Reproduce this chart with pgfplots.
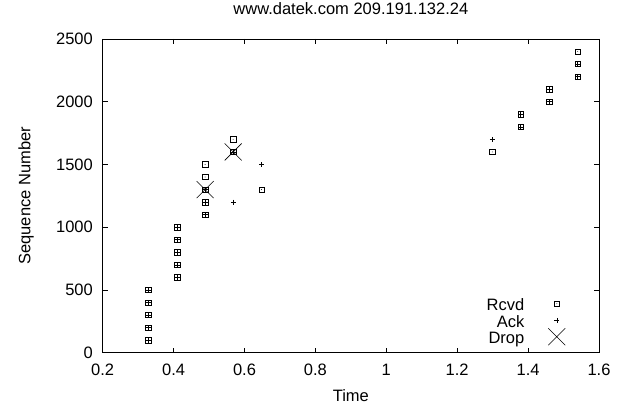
\documentclass[border=0pt]{standalone}
\usepackage{pgfplots}
\pgfplotsset{compat=1.18}
\usepackage{fontspec}
\setmainfont{Liberation Sans}

% square with a dot in the middle, like gnuplot's box point
\pgfdeclareplotmark{sqdot}{%
  \pgfpathrectangle{\pgfpoint{-\pgfplotmarksize}{-\pgfplotmarksize}}%
    {\pgfpoint{2\pgfplotmarksize}{2\pgfplotmarksize}}%
  \pgfusepathqstroke
  \pgfpathcircle{\pgfpointorigin}{0.45bp}%
  \pgfusepathqfill
}

\begin{document}
\begin{tikzpicture}
  \useasboundingbox (-102.7bp,-54.3bp) rectangle (515.3bp,352.7bp);
  \begin{axis}[
    at={(0,0)}, anchor=south west,
    scale only axis,
    width=496.3bp, height=313.7bp,
    xmin=0.2, xmax=1.6,
    ymin=0, ymax=2500,
    xtick={0.2,0.4,0.6,0.8,1,1.2,1.4,1.6},
    ytick={0,500,1000,1500,2000,2500},
    tick align=inside,
    major tick length=5bp,
    axis line style={line width=0.8bp},
    every tick/.style={black, line width=0.6bp},
    font=\fontsize{16.5bp}{19bp}\selectfont,
    /pgf/number format/assume math mode=true,
    /pgf/number format/1000 sep={},
    scaled ticks=false,
    xticklabel style={anchor=base, inner sep=0pt, yshift=-22.3bp},
    yticklabel style={anchor=east, inner sep=0pt, xshift=-9.7bp},
    title={www.datek.com 209.191.132.24},
    title style={at={(axis description cs:0.5,1.0606)}, anchor=base, inner sep=0pt},
    xlabel={Time},
    xlabel style={at={(axis description cs:0.5,-0.156)}, anchor=base, inner sep=0pt},
    ylabel={Sequence Number},
    ylabel style={at={(axis description cs:-0.1545,0.5)}, anchor=center, inner sep=0pt},
    legend plot pos=right,
    legend cell align=right,
    legend image code/.code={
      \path[draw=none, fill=none] (0bp,-5bp) rectangle (17bp,12bp);
      \draw[mark repeat=2, mark phase=2, #1, overlay]
        plot coordinates {(0bp,3.5bp) (8.5bp,3.5bp) (17bp,3.5bp)};
    },
    legend style={draw=none, fill=none, inner sep=0pt,
      at={(axis description cs:0.9325,0.012)}, anchor=south east,
      row sep=-4bp, column sep=24bp,
      nodes={inner sep=0pt, text height=12bp, text depth=5bp},
      font=\fontsize{16.5bp}{19bp}\selectfont},
  ]

    % received segments
    \addplot[only marks, mark=sqdot, mark size=2.7bp, line width=0.6bp, black] coordinates {
      (0.329,100) (0.329,200) (0.329,300) (0.329,400) (0.329,500)
      (0.410,600) (0.410,700) (0.410,800) (0.410,900) (0.410,1000)
      (0.489,1100) (0.489,1200) (0.489,1300) (0.489,1400) (0.489,1500)
      (0.568,1600) (0.568,1700)
      (0.648,1300)
      (1.299,1600)
      (1.379,1800) (1.379,1900)
      (1.460,2000) (1.460,2100)
      (1.540,2200) (1.540,2300) (1.540,2400)
    };
    % acks
    \addplot[only marks, mark=+, mark size=2.4bp, line width=0.6bp, black] coordinates {
      (0.329,100) (0.329,200) (0.329,300) (0.329,400) (0.329,500)
      (0.410,600) (0.410,700) (0.410,800) (0.410,900) (0.410,1000)
      (0.489,1100) (0.489,1200) (0.489,1300)
      (0.568,1200) (0.568,1600)
      (0.648,1500)
      (1.299,1700)
      (1.379,1800) (1.379,1900)
      (1.460,2000) (1.460,2100)
      (1.540,2200) (1.540,2300)
    };
    % drops
    \addplot[only marks, mark=x, mark size=12bp, line width=0.6bp, black] coordinates {
      (0.489,1300)
      (0.568,1600)
    };

    \legend{Rcvd, Ack, Drop}
  \end{axis}
\end{tikzpicture}
\end{document}
